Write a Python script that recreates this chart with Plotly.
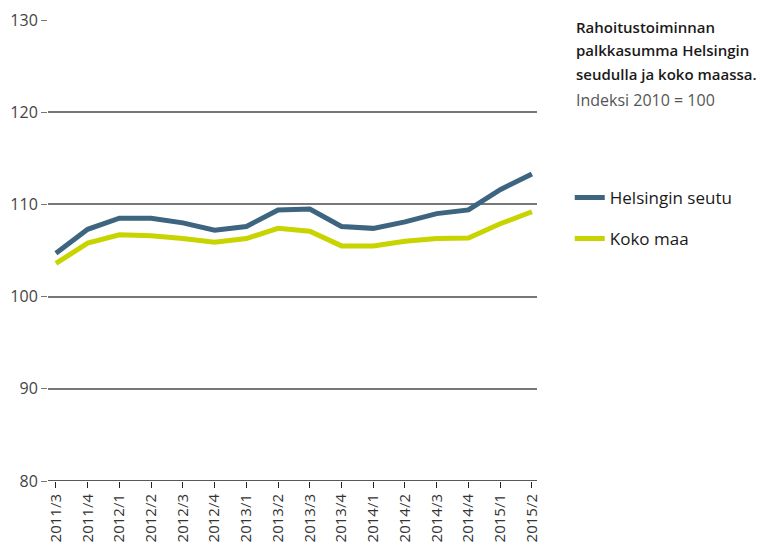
import plotly.graph_objects as go

# Quarters and index values (2010 = 100)
quarters = ['2011/3', '2011/4', '2012/1', '2012/2', '2012/3', '2012/4', '2013/1', '2013/2',
            '2013/3', '2013/4', '2014/1', '2014/2', '2014/3', '2014/4', '2015/1', '2015/2']
helsinki = [104.7, 107.3, 108.5, 108.5, 108.0, 107.2, 107.6, 109.4,
            109.5, 107.6, 107.4, 108.1, 109.0, 109.4, 111.6, 113.3]
koko_maa = [103.6, 105.8, 106.7, 106.6, 106.3, 105.9, 106.3, 107.4,
            107.1, 105.5, 105.5, 106.0, 106.3, 106.35, 107.9, 109.2]
y_ticks = [80, 90, 100, 110, 120, 130]
title_lines = ['Rahoitustoiminnan', 'palkkasumma Helsingin', 'seudulla ja koko maassa.']

FONT = 'Open Sans'
BLUE = '#3d6580'
YELLOW = '#c8d400'

fig = go.Figure()

fig.add_trace(go.Scatter(
    x=quarters, y=helsinki, mode='lines', name='Helsingin seutu',
    line=dict(color=BLUE, width=5), legendgroup='a'
))
fig.add_trace(go.Scatter(
    x=quarters, y=koko_maa, mode='lines', name='Koko maa',
    line=dict(color=YELLOW, width=5), legendgroup='b'
))

# title block on the right, one annotation per line for the wider line spacing
for i, line in enumerate(title_lines):
    fig.add_annotation(
        text=line, xref='paper', yref='paper',
        x=1.075, y=0.985 - i * 0.051, xanchor='left', yanchor='middle',
        showarrow=False, align='left',
        font=dict(family=FONT, size=15, color='#1a1a1a', weight=600)
    )
fig.add_annotation(
    text='Indeksi 2010 = 100', xref='paper', yref='paper',
    x=1.075, y=0.826, xanchor='left', yanchor='middle',
    showarrow=False, align='left',
    font=dict(family=FONT, size=16, color='#555555')
)

fig.update_layout(
    width=766, height=544,
    margin=dict(l=48, r=229, t=20, b=63),
    plot_bgcolor='white', paper_bgcolor='white',
    font=dict(family=FONT, color='#333333'),
    legend=dict(
        x=1.067, y=0.653, xanchor='left', yanchor='top',
        font=dict(family=FONT, size=17, color='#1a1a1a'),
        tracegroupgap=16, bgcolor='rgba(0,0,0,0)'
    ),
    xaxis=dict(
        type='category', range=[-0.25, 15.16], automargin=False,
        tickangle=-90, ticks='outside', ticklen=6, tickcolor='#222222',
        tickfont=dict(family=FONT, size=15, color='#333333'),
        showgrid=False, showline=False, zeroline=False, fixedrange=True
    ),
    yaxis=dict(
        range=[80, 130], tickvals=y_ticks, automargin=False,
        ticks='outside', ticklen=6, tickcolor='#777777',
        tickfont=dict(family=FONT, size=16, color='#444444'),
        showgrid=True, gridcolor='#777777', gridwidth=1.5,
        showline=False, zeroline=False, fixedrange=True
    ),
    showlegend=True
)

# black baseline at 80
fig.add_hline(y=80, line=dict(color='#222222', width=1.5))

fig.write_html('out.html', config={'displayModeBar': False},
               post_script="document.body.style.margin='0';")
